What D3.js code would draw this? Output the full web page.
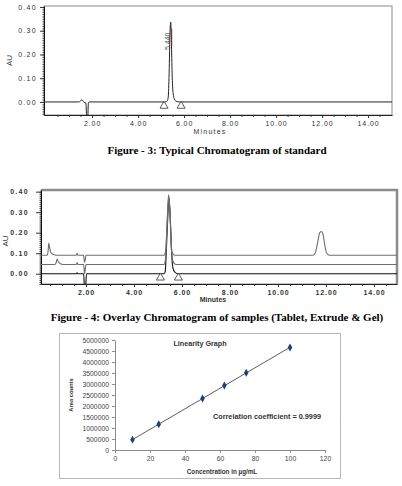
<!DOCTYPE html>
<html>
<head>
<meta charset="utf-8">
<script src="https://cdn.jsdelivr.net/npm/d3@7"></script>
<style>
  body { margin: 0; background: #fff; }
  svg { display: block; }
</style>
</head>
<body>
<div id="figure"></div>
<script>
// ---- Figure 3: standard chromatogram (minutes, AU)
var stdTrace = [[-0.1,0],[1.42,0],[1.5,0.004],[1.55,0.009],[1.6,0.005],[1.66,-0.002],[1.73,-0.004],[1.77,-0.07],[1.81,-0.07],[1.84,-0.004],[1.88,0],
  [5.2,0],[5.27,0.005],[5.31,0.02],[5.35,0.12],[5.39,0.3],[5.42,0.336],[5.45,0.25],[5.48,0.12],[5.52,0.04],[5.58,0.012],[5.65,0.003],[5.8,0],[15.1,0]];
var stdMarkers = [5.13, 5.87];
var stdPeak = { time: 5.42, label: "5.440" };

// ---- Figure 4: overlay of samples
var gelTrace = [[0.1,0.09],[0.38,0.09],[0.42,0.11],[0.45,0.15],[0.48,0.13],[0.53,0.105],[0.62,0.095],[0.8,0.09],[1.6,0.09],[1.63,0.1],[1.66,0.09],[1.9,0.09],[1.94,0.055],[1.97,0.07],[2.0,0.09],
  [5.25,0.09],[5.32,0.11],[5.38,0.25],[5.44,0.385],[5.5,0.3],[5.55,0.15],[5.6,0.1],[5.7,0.09],
  [11.45,0.09],[11.55,0.1],[11.65,0.15],[11.74,0.2],[11.8,0.206],[11.87,0.196],[11.95,0.14],[12.03,0.1],[12.15,0.09],[15.1,0.09]];
var extrudeTrace = [[0.1,0.045],[0.7,0.045],[0.76,0.055],[0.8,0.071],[0.84,0.06],[0.92,0.05],[1.05,0.045],[1.6,0.045],[1.63,0.055],[1.66,0.045],[1.9,0.045],[1.94,0.0],[1.97,0.02],[2.0,0.045],
  [5.25,0.045],[5.31,0.07],[5.38,0.24],[5.45,0.375],[5.5,0.29],[5.55,0.14],[5.6,0.07],[5.7,0.048],[5.8,0.045],[15.1,0.045]];
var tabletTrace = [[0.1,0],[1.6,0],[1.63,0.005],[1.66,0],[1.9,0],[1.94,-0.07],[1.98,-0.07],[2.02,0],
  [5.25,0],[5.3,0.01],[5.38,0.2],[5.46,0.37],[5.52,0.25],[5.57,0.1],[5.62,0.03],[5.7,0.008],[5.85,0],[15.1,0]];
var overlayMarkers = [5.1, 5.85];

var timeTicks = [2, 4, 6, 8, 10, 12, 14];
var auTicks = [0, 0.1, 0.2, 0.3, 0.4];

// ---- Linearity
var concentrations = [10, 25, 50, 62.5, 75, 100];
var areaCounts = [470000, 1170000, 2340000, 2930000, 3510000, 4660000];
var concTicks = [0, 20, 40, 60, 80, 100, 120];
var areaTicks = [0, 500000, 1000000, 1500000, 2000000, 2500000, 3000000, 3500000, 4000000, 4500000, 5000000];

var svg = d3.select("#figure").append("svg")
  .attr("width", 402)
  .attr("height", 486);

var fmt2 = d3.format(".2f");

function chromatogram(box, opts) {
  var g = svg.append("g");
  var x = d3.scaleLinear().domain(box.xDomain).range([box.left, box.right]);
  var y = d3.scaleLinear().domain(box.yDomain).range([box.bottom, box.top]);

  var clipId = "clip" + box.id;
  g.append("clipPath").attr("id", clipId)
    .append("rect")
    .attr("x", box.left).attr("y", box.top)
    .attr("width", box.right - box.left).attr("height", box.bottom - box.top);

  // frame
  g.append("rect")
    .attr("x", box.left).attr("y", box.top)
    .attr("width", box.right - box.left).attr("height", box.bottom - box.top)
    .attr("fill", "none").attr("stroke", "#8a8a8a").attr("stroke-width", 1);
  if (opts.heavyFrame) {
    g.append("path")
      .attr("d", "M" + box.left + "," + box.top + "H" + box.right + "V" + box.bottom)
      .attr("fill", "none").attr("stroke", "#8c8c8c").attr("stroke-width", 2.5);
  }

  // minor ticks
  var minorY = d3.range(-0.05, 0.41, 0.01).filter(function(v) { return v >= box.yDomain[0] && v <= box.yDomain[1]; });
  g.append("g")
    .attr("transform", "translate(" + box.left + ",0)")
    .call(d3.axisLeft(y).tickValues(minorY).tickSize(1.5).tickFormat(""))
    .call(function(a) { a.select(".domain").remove(); a.selectAll("line").attr("stroke", "#444"); });
  var minorX = d3.range(0.5, 15, 0.5);
  g.append("g")
    .attr("transform", "translate(0," + box.bottom + ")")
    .call(d3.axisBottom(x).tickValues(minorX).tickSize(2).tickFormat(""))
    .call(function(a) { a.select(".domain").remove(); a.selectAll("line").attr("stroke", "#444"); });

  var yAxis = g.append("g")
    .attr("transform", "translate(" + box.left + ",0)")
    .call(d3.axisLeft(y).tickValues(auTicks).tickFormat(fmt2).tickSize(opts.yTickSize).tickPadding(opts.yPad).tickSizeOuter(0));
  yAxis.select(".domain").attr("stroke", "#111");
  yAxis.selectAll("line").attr("stroke", "#333");
  yAxis.selectAll("text")
    .attr("font-family", "Liberation Sans, Arial, sans-serif")
    .attr("font-size", 7).attr("font-weight", opts.bold ? "bold" : "normal")
    .attr("letter-spacing", 1.3).attr("fill", "#333");

  var xAxis = g.append("g")
    .attr("transform", "translate(0," + box.bottom + ")")
    .call(d3.axisBottom(x).tickValues(timeTicks).tickFormat(fmt2).tickSize(3).tickPadding(3).tickSizeOuter(0));
  xAxis.select(".domain").attr("stroke", "#222");
  xAxis.selectAll("line").attr("stroke", "#333");
  xAxis.selectAll("text")
    .attr("font-family", "Liberation Sans, Arial, sans-serif")
    .attr("font-size", 7).attr("font-weight", opts.bold ? "bold" : "normal")
    .attr("letter-spacing", 0.9).attr("fill", "#333");

  g.append("text")
    .attr("x", (box.left + box.right) / 2 + opts.xLabelShift).attr("y", opts.xLabelY)
    .attr("text-anchor", "middle")
    .attr("font-family", "Liberation Sans, Arial, sans-serif")
    .attr("font-size", 7).attr("font-weight", opts.bold ? "bold" : "normal")
    .attr("letter-spacing", opts.bold ? 0 : 1.2).attr("fill", "#333")
    .text("Minutes");

  g.append("text")
    .attr("transform", "translate(" + opts.auX + "," + ((box.top + box.bottom) / 2 + opts.auShift) + ") rotate(-90)")
    .attr("text-anchor", "middle")
    .attr("font-family", "Liberation Sans, Arial, sans-serif")
    .attr("font-size", 8).attr("fill", "#333")
    .text("AU");

  var line = d3.line()
    .x(function(d) { return x(d[0]); })
    .y(function(d) { return y(d[1]); })
    .curve(d3.curveMonotoneX);

  var traces = g.append("g").attr("clip-path", "url(#" + clipId + ")");
  opts.traces.forEach(function(t) {
    traces.append("path")
      .datum(t.data)
      .attr("d", line)
      .attr("fill", "none")
      .attr("stroke", t.color)
      .attr("stroke-width", t.width);
  });

  g.selectAll(".mark")
    .data(opts.markers)
    .enter().append("path")
    .attr("class", "mark")
    .attr("transform", function(d) { return "translate(" + x(d) + "," + (y(0) + 4) + ")"; })
    .attr("d", d3.symbol().type(d3.symbolTriangle).size(28))
    .attr("fill", "#fff").attr("stroke", "#333").attr("stroke-width", 0.8);

  return { g: g, x: x, y: y };
}

// ---- chart 1
var c1 = chromatogram(
  { id: 1, left: 44, right: 392, top: 6, bottom: 115, xDomain: [-0.09, 15.04], yDomain: [-0.055, 0.404] },
  { traces: [{ data: stdTrace, color: "#222", width: 1 }], markers: stdMarkers,
    yTickSize: 4, yPad: 3, bold: false, xLabelY: 134, xLabelShift: -8, auX: 12, auShift: 0, heavyFrame: false });

c1.g.append("line")
  .attr("x1", c1.x(stdPeak.time) + 1).attr("x2", c1.x(stdPeak.time) + 1)
  .attr("y1", 29).attr("y2", 46)
  .attr("stroke", "#8b2a2a").attr("stroke-width", 1);
c1.g.append("text")
  .attr("transform", "translate(" + (c1.x(stdPeak.time) - 1) + ",50) rotate(-90)")
  .attr("font-family", "Liberation Sans, Arial, sans-serif")
  .attr("font-size", 7).attr("fill", "#2f5d50")
  .text(stdPeak.label);

// ---- chart 2
chromatogram(
  { id: 2, left: 41, right: 397, top: 190, bottom: 284, xDomain: [0.125, 14.96], yDomain: [-0.05, 0.408] },
  { traces: [
      { data: tabletTrace, color: "#111", width: 1.1 },
      { data: extrudeTrace, color: "#6e6e6e", width: 1.1 },
      { data: gelTrace, color: "#6e6e6e", width: 1.1 }
    ],
    markers: overlayMarkers,
    yTickSize: 5, yPad: 7, bold: true, xLabelY: 302, xLabelShift: -6, auX: 8, auShift: 4, heavyFrame: true });

// ---- captions
svg.append("text")
  .attr("x", 217).attr("y", 153.5)
  .attr("text-anchor", "middle")
  .attr("font-family", "Liberation Serif, Times New Roman, serif")
  .attr("font-size", 11).attr("font-weight", "bold")
  .text("Figure - 3: Typical Chromatogram of standard");

svg.append("text")
  .attr("x", 217).attr("y", 320.5)
  .attr("text-anchor", "middle")
  .attr("font-family", "Liberation Serif, Times New Roman, serif")
  .attr("font-size", 11).attr("font-weight", "bold")
  .text("Figure - 4: Overlay Chromatogram of samples (Tablet, Extrude & Gel)");

// ---- chart 3: linearity
var lin = svg.append("g");
lin.append("rect")
  .attr("x", 59.5).attr("y", 333.5).attr("width", 281).attr("height", 145)
  .attr("fill", "#fff").attr("stroke", "#b8b8b8");

var lx = d3.scaleLinear().domain([0, 120]).range([115, 325]);
var ly = d3.scaleLinear().domain([0, 5000000]).range([450, 340]);

var ya = lin.append("g")
  .attr("transform", "translate(115,0)")
  .call(d3.axisLeft(ly).tickValues(areaTicks).tickFormat(d3.format("d")).tickSize(3).tickPadding(3).tickSizeOuter(0));
var xa = lin.append("g")
  .attr("transform", "translate(0,450)")
  .call(d3.axisBottom(lx).tickValues(concTicks).tickFormat(d3.format("d")).tickSize(3).tickPadding(3).tickSizeOuter(0));
[ya, xa].forEach(function(a) {
  a.selectAll("path, line").attr("stroke", "#8c8c8c");
  a.selectAll("text")
    .attr("font-family", "Liberation Sans, Arial, sans-serif")
    .attr("font-size", 6.8).attr("fill", "#444");
});

// trend line, least squares through the points
var mx = d3.mean(concentrations), my = d3.mean(areaCounts);
var slope = d3.sum(concentrations, function(c, i) { return (c - mx) * (areaCounts[i] - my); }) /
            d3.sum(concentrations, function(c) { return (c - mx) * (c - mx); });
var icpt = my - slope * mx;
var x0 = d3.min(concentrations), x1 = d3.max(concentrations);
lin.append("line")
  .attr("x1", lx(x0)).attr("y1", ly(icpt + slope * x0))
  .attr("x2", lx(x1)).attr("y2", ly(icpt + slope * x1))
  .attr("stroke", "#333").attr("stroke-width", 0.8);

lin.selectAll(".pt")
  .data(concentrations)
  .enter().append("path")
  .attr("class", "pt")
  .attr("transform", function(d, i) { return "translate(" + lx(d) + "," + ly(areaCounts[i]) + ")"; })
  .attr("d", d3.symbol().type(d3.symbolDiamond).size(18))
  .attr("fill", "#1d3f7a");

lin.append("text")
  .attr("x", 200).attr("y", 346)
  .attr("text-anchor", "middle")
  .attr("font-family", "Liberation Sans, Arial, sans-serif")
  .attr("font-size", 7.2).attr("font-weight", "bold").attr("fill", "#333")
  .text("Linearity Graph");

lin.append("text")
  .attr("x", 267).attr("y", 418.5)
  .attr("text-anchor", "middle")
  .attr("font-family", "Liberation Sans, Arial, sans-serif")
  .attr("font-size", 7.3).attr("font-weight", "bold").attr("fill", "#333")
  .text("Correlation coefficient = 0.9999");

lin.append("text")
  .attr("x", 222).attr("y", 474)
  .attr("text-anchor", "middle")
  .attr("font-family", "Liberation Sans, Arial, sans-serif")
  .attr("font-size", 6.3).attr("font-weight", "bold").attr("fill", "#333")
  .text("Concentration in µg/mL");

lin.append("text")
  .attr("transform", "translate(73,395) rotate(-90)")
  .attr("text-anchor", "middle")
  .attr("font-family", "Liberation Sans, Arial, sans-serif")
  .attr("font-size", 5.8).attr("font-weight", "bold").attr("fill", "#333")
  .text("Area counts");
</script>
</body>
</html>
